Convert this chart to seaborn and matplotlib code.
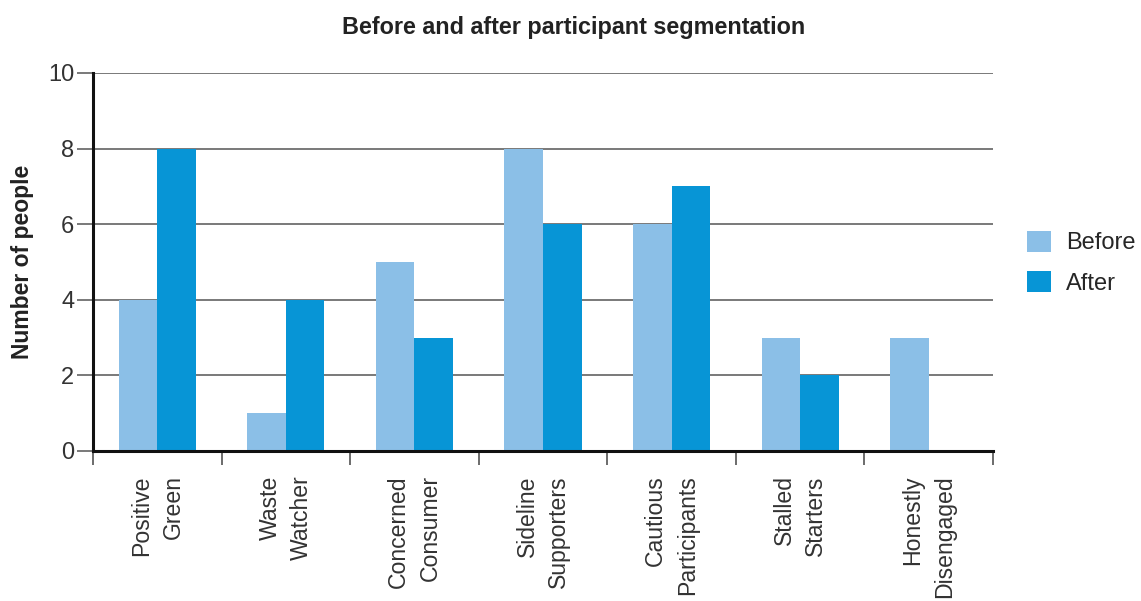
import matplotlib
matplotlib.use("Agg")
import matplotlib.pyplot as plt
from matplotlib.patches import Patch
import seaborn as sns
import pandas as pd
import numpy as np

# Segment names and head counts before / after the programme
segments = ["Positive\nGreen", "Waste\nWatcher", "Concerned\nConsumer",
            "Sideline\nSupporters", "Cautious\nParticipants", "Stalled\nStarters",
            "Honestly\nDisengaged"]
before = [4, 1, 5, 8, 6, 3, 3]
after = [8, 4, 3, 6, 7, 2, 0]
periods = ["Before", "After"]
colors = ["#8bbfe7", "#0795d6"]
yticks = [0, 2, 4, 6, 8, 10]

df = pd.DataFrame({
    "Segment": segments * 2,
    "Period": ["Before"] * len(segments) + ["After"] * len(segments),
    "People": before + after,
})

sns.set_theme(style="white")
plt.rcParams["font.family"] = ["Liberation Sans", "DejaVu Sans"]

fig = plt.figure(figsize=(11.41, 6.01), dpi=100)
ax = fig.add_axes([0.0815, 0.2496, 0.7888, 0.629])

sns.barplot(data=df, x="Segment", y="People", hue="Period", order=segments,
            hue_order=periods, palette=colors, width=0.6, saturation=1,
            linewidth=0, ax=ax, legend=False, zorder=3)

ax.set_ylim(0, 10)
ax.set_xlim(-0.5, len(segments) - 0.5)
ax.set_yticks(yticks)
ax.set_yticklabels([str(v) for v in yticks], fontsize=17, color="#333333")
ax.yaxis.grid(True, color="#555555", linewidth=1.1, zorder=0)
ax.xaxis.grid(False)
ax.tick_params(axis="y", length=11.5, width=1.1, color="#555555", pad=2, left=True)

# Category labels, rotated, with boundary ticks between groups
ax.set_xticks(range(len(segments)))
ax.set_xticklabels(segments, rotation=90, ha="center", va="top",
                   multialignment="right", fontsize=16.6, color="#333333",
                   linespacing=1.48)
ax.tick_params(axis="x", which="major", length=0, pad=17.5)
ax.set_xticks(np.arange(-0.5, len(segments), 1.0), minor=True)
ax.tick_params(axis="x", which="minor", length=10, width=1.1, color="#444444",
               bottom=True)

for side in ["top", "right"]:
    ax.spines[side].set_visible(False)
ax.spines["left"].set_color("#111111")
ax.spines["left"].set_linewidth(2.2)
ax.spines["bottom"].set_color("#111111")
ax.spines["bottom"].set_linewidth(2.2)
ax.spines["left"].set_zorder(4)
ax.spines["bottom"].set_zorder(4)

ax.set_xlabel("")
ax.set_ylabel("Number of people", fontsize=16.5, fontweight="bold",
              color="#222222", labelpad=10)
fig.text(0.503, 0.955, "Before and after participant segmentation",
         ha="center", va="center", fontsize=16.8, fontweight="bold",
         color="#222222")

handles = [Patch(facecolor=c, edgecolor="none") for c in colors]
fig.legend(handles, periods, loc="center left", bbox_to_anchor=(0.9, 0.563),
           frameon=False, handlelength=1.0, handleheight=1.0,
           handletextpad=0.65, labelspacing=0.7, borderpad=0,
           borderaxespad=0, prop={"weight": "medium", "size": 17})

fig.savefig("out.png", dpi=100)
